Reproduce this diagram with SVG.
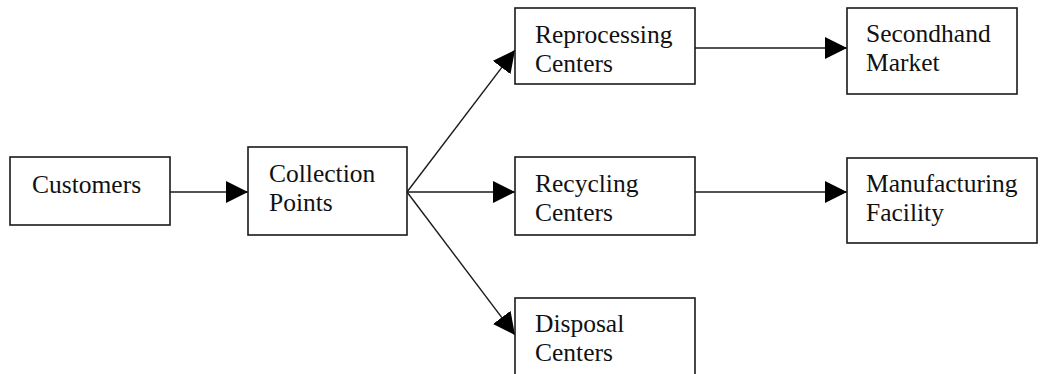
<svg xmlns="http://www.w3.org/2000/svg" width="1045" height="374" viewBox="0 0 1045 374">
  <style>
    .box { fill: #ffffff; stroke: #1a1a1a; stroke-width: 1.6; }
    .lbl { font-family: "Liberation Serif", "Times New Roman", serif; font-size: 25.5px; fill: #111111; }
    .edge { stroke: #1a1a1a; stroke-width: 1.4; fill: none; marker-end: url(#arrow); }
  </style>
  <defs>
    <marker id="arrow" markerUnits="userSpaceOnUse" markerWidth="22" markerHeight="22" viewBox="0 0 20 20" refX="20" refY="10" orient="auto">
      <path d="M0,0 L20,10 L0,20 Z" fill="#000000"/>
    </marker>
  </defs>
  <rect width="1045" height="374" fill="#ffffff"/>

  <g id="connectors">
    <line class="edge" x1="170" y1="192" x2="248" y2="192"/>
    <line class="edge" x1="407" y1="192" x2="515" y2="50"/>
    <line class="edge" x1="407" y1="192" x2="515" y2="192"/>
    <line class="edge" x1="407" y1="192" x2="515" y2="335"/>
    <line class="edge" x1="695" y1="48" x2="847" y2="48"/>
    <line class="edge" x1="695" y1="192" x2="847" y2="192"/>
  </g>

  <g id="customers">
    <rect class="box" x="10" y="157" width="160" height="68"/>
    <text class="lbl" x="32" y="193">Customers</text>
  </g>

  <g id="collection-points">
    <rect class="box" x="248" y="147" width="159" height="88"/>
    <text class="lbl" x="269" y="182">Collection</text>
    <text class="lbl" x="269" y="211">Points</text>
  </g>

  <g id="reprocessing-centers">
    <rect class="box" x="515" y="8" width="180" height="76"/>
    <text class="lbl" x="535" y="43">Reprocessing</text>
    <text class="lbl" x="535" y="72">Centers</text>
  </g>

  <g id="recycling-centers">
    <rect class="box" x="515" y="157" width="180" height="78"/>
    <text class="lbl" x="535" y="192">Recycling</text>
    <text class="lbl" x="535" y="221">Centers</text>
  </g>

  <g id="disposal-centers">
    <rect class="box" x="515" y="298" width="180" height="90"/>
    <text class="lbl" x="535" y="332">Disposal</text>
    <text class="lbl" x="535" y="361">Centers</text>
  </g>

  <g id="secondhand-market">
    <rect class="box" x="847" y="8" width="170" height="86"/>
    <text class="lbl" x="866" y="42">Secondhand</text>
    <text class="lbl" x="866" y="71">Market</text>
  </g>

  <g id="manufacturing-facility">
    <rect class="box" x="847" y="158" width="190" height="85"/>
    <text class="lbl" x="866" y="192">Manufacturing</text>
    <text class="lbl" x="866" y="221">Facility</text>
  </g>
</svg>
